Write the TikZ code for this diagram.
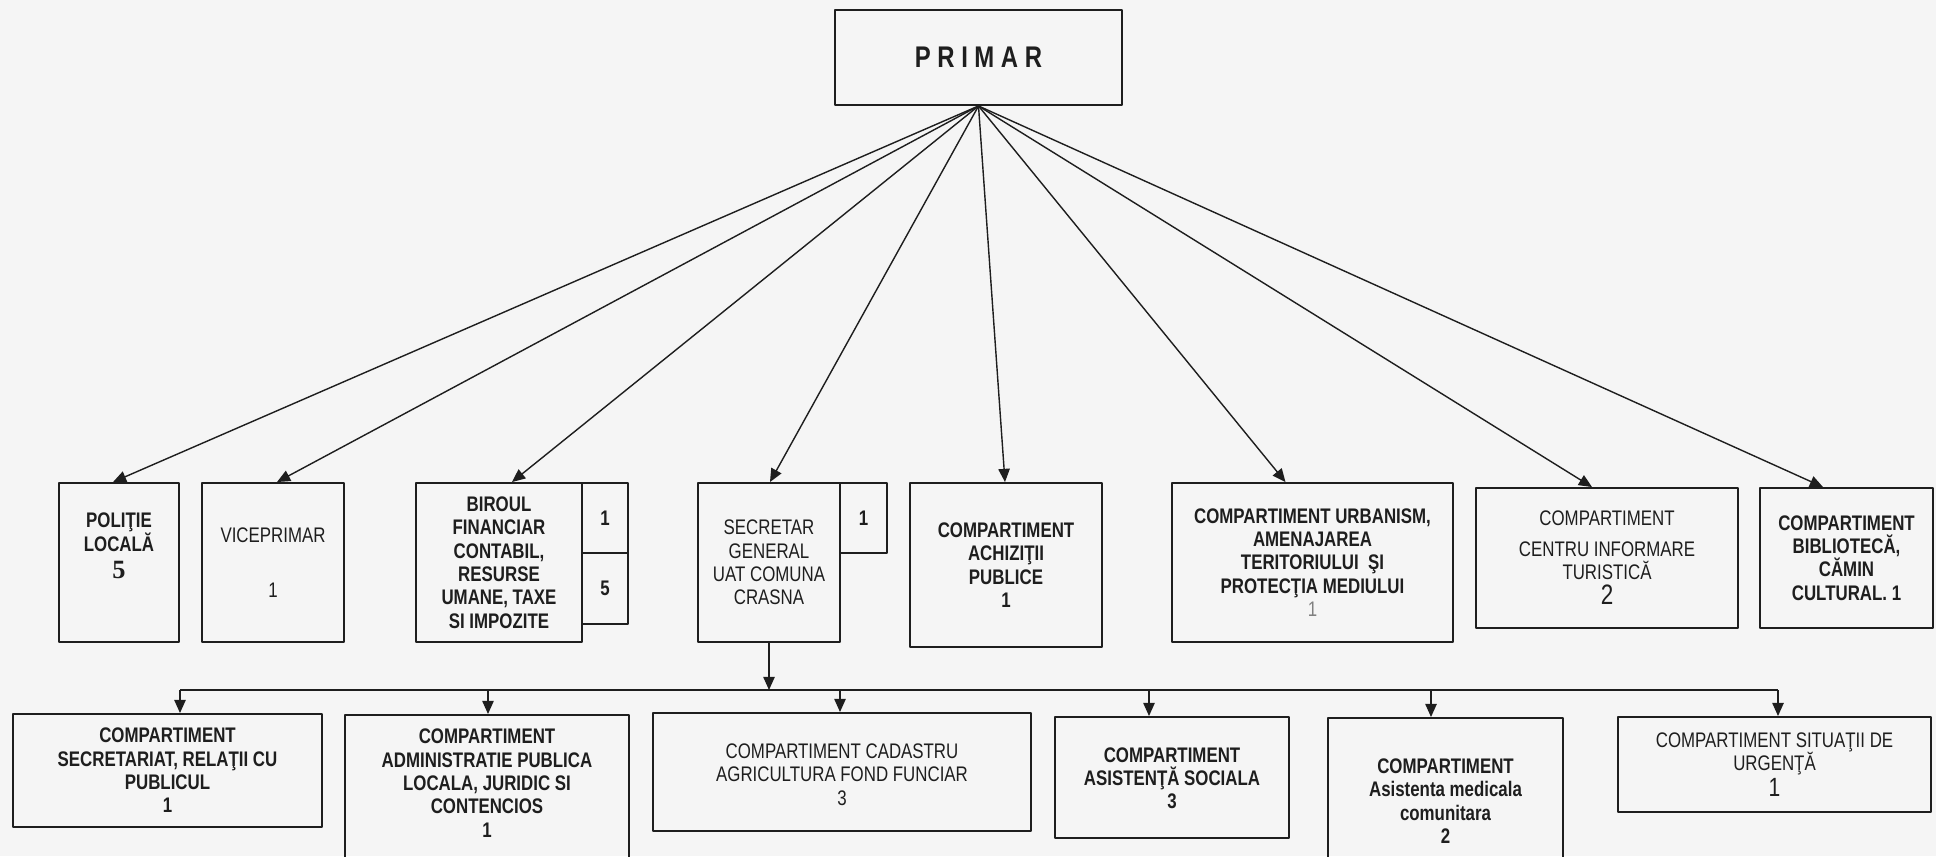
\documentclass[tikz,border=0pt]{standalone}
\usepackage{fontspec}
\setmainfont{Liberation Sans}[FakeStretch=0.8]
\newfontfamily\digitfont{Liberation Serif}
\usetikzlibrary{arrows.meta}
\definecolor{ink}{HTML}{1E1E1E}
\definecolor{paper}{HTML}{F5F5F5}
\tikzset{
  box/.style={draw=ink, line width=1.1pt, text=ink, align=center, inner sep=0pt},
  normtxt/.style={font=\fontsize{12}{13.3}\selectfont},
  boldtxt/.style={font=\fontsize{12}{13.3}\selectfont\bfseries},
  link/.style={->, draw=ink, line width=0.8pt},
}

\begin{document}
\begin{tikzpicture}[x=0.02cm, y=-0.02cm, >={Triangle[length=7.5pt, width=6.5pt]}, line join=round]
    \fill[paper] (0,0) rectangle (1936,856);
    \clip (0,0) rectangle (1936,856);

    \node[box, minimum width=287*0.02cm, minimum height=95*0.02cm,
          font=\fontsize{17}{17}\selectfont\bfseries\addfontfeature{LetterSpace=22}] (primar) at (978.5,57.5) {PRIMAR};

    % top row
    \foreach \x/\y/\w/\h/\id/\s/\text in {
        119/562.5/120/159/pol/boldtxt/{POLIŢIE\\LOCALĂ\\[2pt]{\digitfont\fontsize{15}{15}\selectfont 5}\\[6pt]\mbox{}},
        273/562.5/142/159/vice/normtxt/{VICEPRIMAR\\[18pt]1},
        499/562.5/166/159/fin/boldtxt/{BIROUL\\FINANCIAR\\CONTABIL,\\RESURSE\\UMANE, TAXE\\SI IMPOZITE},
        769/562.5/142/159/sec/normtxt/{SECRETAR\\GENERAL\\UAT COMUNA\\CRASNA},
        1006/565/192/164/ach/boldtxt/{COMPARTIMENT\\ACHIZIŢII\\PUBLICE\\1},
        1312.5/562.5/281/159/urb/boldtxt/{COMPARTIMENT URBANISM,\\AMENAJAREA\\TERITORIULUI ~ŞI\\PROTECŢIA MEDIULUI\\{\mdseries\color{gray}1}},
        1607/558/262/140/tur/normtxt/{COMPARTIMENT\\[4pt]CENTRU INFORMARE\\TURISTICĂ\\[1pt]{\fontsize{16}{16}\selectfont 2}},
        1846.5/558/173/140/bib/boldtxt/{COMPARTIMENT\\BIBLIOTECĂ,\\CĂMIN\\CULTURAL. 1}%
    } {
        \node[box, \s, minimum width=\w*0.02cm, minimum height=\h*0.02cm] (\id) at (\x,\y) {\text};
    }
    \foreach \x/\y/\w/\h/\id/\text in {
        605/518/46/70/fin1/1,
        605/588.5/46/71/fin5/5,
        863.5/518/47/70/sec1/1%
    } {
        \node[box, boldtxt, minimum width=\w*0.02cm, minimum height=\h*0.02cm] (\id) at (\x,\y) {\text};
    }
    \foreach \id/\dx in {pol/-6, vice/4, fin/13, sec/1, ach/-1, urb/-27, tur/-15, bib/-23.5} {
        \draw[link] (primar.south) -- ([xshift=\dx*0.02cm]\id.north);
    }

    % bottom row
    \foreach \x/\y/\w/\h/\id/\s/\text in {
        167.5/770.5/309/113/rel/boldtxt/{COMPARTIMENT\\SECRETARIAT, RELAŢII CU\\PUBLICUL\\1},
        842/772/378/118/cad/normtxt/{\mbox{}\\[-2pt]COMPARTIMENT CADASTRU\\AGRICULTURA FOND FUNCIAR\\3},
        1172/777.5/234/121/asis/boldtxt/{\mbox{}\\[-4pt]COMPARTIMENT\\ASISTENŢĂ SOCIALA\\3},
        1445.5/801/235/166/med/boldtxt/{COMPARTIMENT\\Asistenta medicala\\comunitara\\2},
        1774.5/764.5/313/95/urg/normtxt/{COMPARTIMENT SITUAŢII DE\\URGENŢĂ\\[1pt]{\fontsize{15}{15}\selectfont 1}}%
    } {
        \node[box, \s, minimum width=\w*0.02cm, minimum height=\h*0.02cm] (\id) at (\x,\y) {\text};
    }
    \node[box, boldtxt, anchor=north, minimum width=284*0.02cm, inner ysep=8pt] (adm) at (487,714)
        {COMPARTIMENT\\ADMINISTRATIE PUBLICA\\LOCALA, JURIDIC SI\\CONTENCIOS\\1\\ \mbox{}\\ \mbox{}};

    \coordinate (busL) at (180,690);
    \coordinate (busR) at (1778,690);
    \draw[ink, line width=0.8pt] (busL) -- (busR);
    \draw[link] (sec.south) -- (sec.south |- busL);
    \foreach \id/\dx in {rel/12.5, adm/1, cad/-2, asis/-23, med/-14.5, urg/3.5} {
        \path ([xshift=\dx*0.02cm]\id.north) coordinate (t\id);
        \draw[link] (t\id |- busL) -- (t\id);
    }
\end{tikzpicture}
\end{document}
